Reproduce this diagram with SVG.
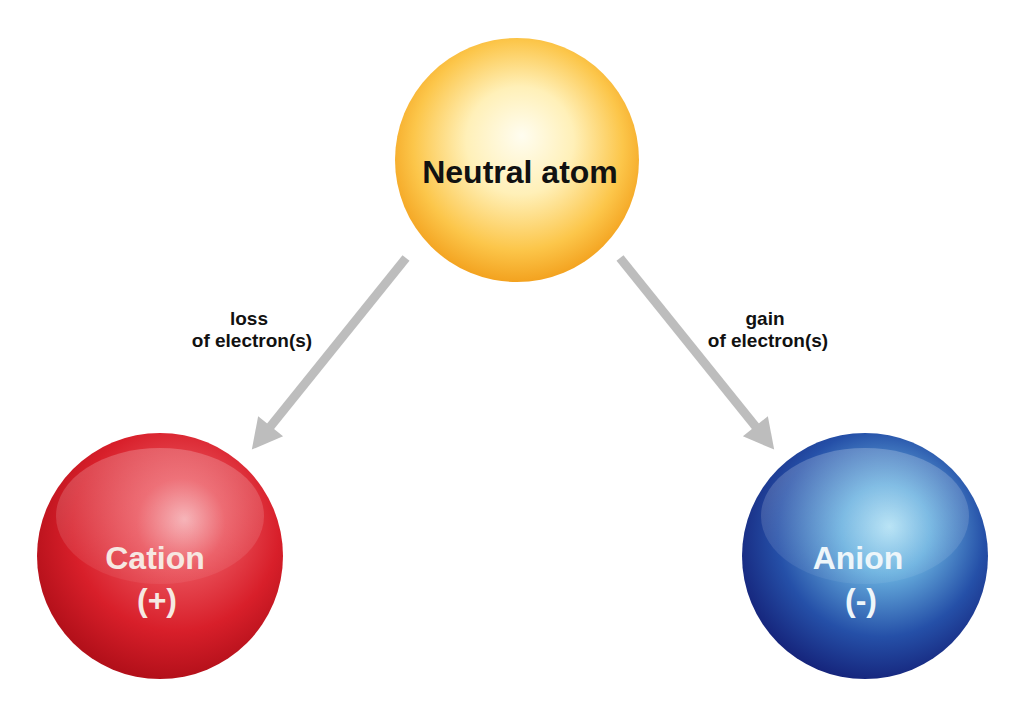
<svg xmlns="http://www.w3.org/2000/svg" width="1024" height="717" viewBox="0 0 1024 717">
<defs>
<radialGradient id="gYellow" cx="0.5" cy="0.45" r="0.55" fx="0.52" fy="0.4">
<stop offset="0" stop-color="#fffdf0"/>
<stop offset="0.4" stop-color="#fff0b8"/>
<stop offset="0.78" stop-color="#fcc64a"/>
<stop offset="1" stop-color="#f3a21f"/>
</radialGradient>
<radialGradient id="gRed" cx="0.55" cy="0.4" r="0.6" fx="0.6" fy="0.35">
<stop offset="0" stop-color="#f5a9ae"/>
<stop offset="0.3" stop-color="#ea525b"/>
<stop offset="0.7" stop-color="#d81f2a"/>
<stop offset="1" stop-color="#b3101a"/>
</radialGradient>
<radialGradient id="gBlue" cx="0.55" cy="0.42" r="0.6" fx="0.6" fy="0.38">
<stop offset="0" stop-color="#b0e0f4"/>
<stop offset="0.3" stop-color="#68b0df"/>
<stop offset="0.7" stop-color="#2550a8"/>
<stop offset="1" stop-color="#15237a"/>
</radialGradient>
<linearGradient id="gloss" x1="0" y1="0" x2="0" y2="1">
<stop offset="0" stop-color="#ffffff" stop-opacity="0.22"/>
<stop offset="1" stop-color="#ffffff" stop-opacity="0.06"/>
</linearGradient>
<marker id="head" markerUnits="userSpaceOnUse" markerWidth="32" markerHeight="32" viewBox="0 0 30 32" refX="1" refY="16" orient="auto">
<path d="M0,0 L30,16 L0,32 Z" fill="#bdbdbd"/>
</marker>
<style>
.lbl{font-family:"Liberation Sans",Arial,sans-serif;font-weight:bold;font-size:19px;fill:#111;text-anchor:middle}
.big{font-family:"Liberation Sans",Arial,sans-serif;font-weight:bold;font-size:32px;text-anchor:middle}
.conn{stroke:#bdbdbd;stroke-width:9;fill:none}
</style>
</defs>
<rect width="1024" height="717" fill="#ffffff"/>
<g id="connectors">
<path class="conn" d="M406,258 L270,427" marker-end="url(#head)"/>
<path class="conn" d="M620,258 L756,427" marker-end="url(#head)"/>
<text class="lbl" x="249" y="325">loss</text>
<text class="lbl" x="252" y="347">of electron(s)</text>
<text class="lbl" x="765" y="325">gain</text>
<text class="lbl" x="768" y="347">of electron(s)</text>
</g>
<g id="neutral">
<circle cx="517" cy="160" r="122" fill="url(#gYellow)"/>
<text class="big" x="520" y="183" fill="#111" font-size="33">Neutral atom</text>
</g>
<g id="cation">
<circle cx="160" cy="556" r="123" fill="url(#gRed)"/>
<ellipse cx="160" cy="516" rx="104" ry="68" fill="url(#gloss)"/>
<text class="big" x="155" y="569" fill="#f6e8e2">Cation</text>
<text class="big" x="157" y="611" fill="#f6e8e2">(+)</text>
</g>
<g id="anion">
<circle cx="865" cy="556" r="123" fill="url(#gBlue)"/>
<ellipse cx="865" cy="516" rx="104" ry="68" fill="url(#gloss)"/>
<text class="big" x="858" y="569" fill="#eef6fa">Anion</text>
<text class="big" x="861" y="611" fill="#eef6fa">(-)</text>
</g>
</svg>
